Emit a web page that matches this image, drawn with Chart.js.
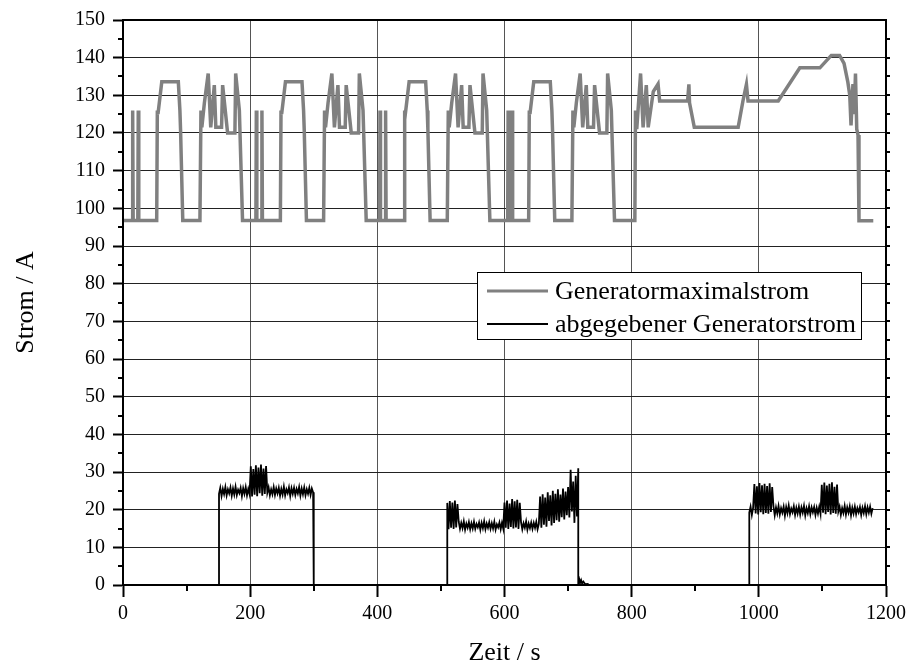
<!DOCTYPE html>
<html>
<head>
<meta charset="utf-8">
<script src="https://cdn.jsdelivr.net/npm/chart.js@4.4.0/dist/chart.umd.min.js"></script>
<style>
  html, body { margin: 0; padding: 0; background: #fff; }
  #wrap { width: 911px; height: 669px; }
</style>
</head>
<body>
<div id="wrap"><canvas id="chart" width="911" height="669"></canvas></div>
<script>
// Generatormaximalstrom, [Zeit s, Strom A] breakpoints
const maxCycle1 = [[0,96.8],[14.5,96.8],[15.2,126],[16,96.8],[23.3,96.8],[24,126],[24.8,96.8],[53,96.8],[54,126],[55,125],[61,133.6],[87,133.6],[89.5,126],[90.5,121],[94,96.8],
  [121,96.8],[122.6,126],[124,121.5],[128,128],[134,135.8],[138,121.5],[143.6,132.7],[146,121.5],[155,121.5],[156.7,132.7],[164.5,120],[176,120],[177.2,135.8],[183,126],[188,96.8]];
const maxCycle2 = [[209,96.8],[209.7,126],[210.5,96.8],[217.8,96.8],[218.5,126],[219.3,96.8],[247.5,96.8],[248.5,126],[249.5,125],[255.5,133.6],[281.5,133.6],[284,126],[285,121],[288.5,96.8],
  [315.5,96.8],[317,126],[318.5,121.5],[322.5,128],[328.5,135.8],[332.5,121.5],[338,132.7],[340.5,121.5],[349.5,121.5],[351,132.7],[359,120],[370.5,120],[371.7,135.8],[377.5,126],[382.5,96.8]];
const maxCycle3 = [[403.5,96.8],[404.2,126],[405,96.8],[412.3,96.8],[413,126],[413.8,96.8],[442,96.8],[443,126],[444,125],[450,133.6],[476,133.6],[478.5,126],[479.5,121],[483,96.8],
  [510,96.8],[511.6,126],[513,121.5],[517,128],[523,135.8],[527,121.5],[532.6,132.7],[535,121.5],[544,121.5],[545.7,132.7],[553.5,120],[565,120],[566.2,135.8],[572,126],[577,96.8]];
const maxCycle4 = [[605,96.8],[605.7,126],[606.5,96.8],[611.3,96.8],[612,126],[612.8,96.8],[638,96.8],[639,126],[640,125],[646,133.6],[672,133.6],[674.5,126],[675.5,121],[679,96.8],
  [706,96.8],[707.6,126],[709,121.5],[713,128],[719,135.8],[723,121.5],[728.6,132.7],[731,121.5],[740,121.5],[741.7,132.7],[749.5,120],[761,120],[762.2,135.8],[768,126],[773,96.8]];
const maxTail = [[805,96.8],[806,126],[808,121],[814,135.8],[818,121.5],[823,132.7],[826,121.5],[834,131],[841.5,133],[844,128.5],[888,128.5],[890,132.9],[891,128],[898.5,121.5],
  [967.5,121.5],[975,128.5],[980.5,132.9],[983,128.5],[1030.5,128.5],[1064.5,137.3],[1096,137.3],[1114,140.6],[1127,140.6],[1134,138.5],[1140,133.5],[1143,130],[1145,122],
  [1148,133],[1150,125],[1152,135.8],[1154,121],[1156,119.5],[1157.5,96.7],[1180,96.7]];

// abgegebener Generatorstrom, sampled every outStep seconds inside each load block
const outStep = 2;
const outSeg1Start = 151;
const outSeg1 = [24.2,25.8,23.6,25.5,24.1,26.0,23.8,25.4,24.3,25.9,23.7,25.6,24.0,26.1,23.9,25.3,24.4,25.8,23.6,25.7,24.2,26.0,23.8,25.5,24.1,
  31.5,23.5,30.8,24.0,31.8,23.6,31.2,24.4,32.0,23.7,30.9,24.2,31.6,24.5,25.9,23.8,25.4,24.1,26.0,23.9,25.6,24.3,25.8,23.7,25.5,
  24.0,26.1,23.8,25.4,24.4,25.9,23.6,25.7,24.2,25.8,23.9,25.5,24.3,26.0,23.7,25.6,24.1,25.9,23.8,25.4,24.2,25.8,23.9,25.6,24.6];
const outSeg2Start = 510;
const outSeg2 = [21.8,14.8,22.3,15.2,21.9,14.9,22.4,15.3,21.5,16.8,14.9,16.5,15.1,16.9,14.7,16.3,15.2,16.7,14.8,16.4,15.0,16.8,14.9,16.2,15.3,
  16.6,14.7,16.5,15.1,16.9,14.8,16.3,15.2,16.7,14.9,16.4,15.0,16.8,14.7,16.1,15.3,16.6,14.8,16.5,15.0,
  21.9,15.2,22.4,14.9,21.6,15.4,22.8,15.0,22.2,15.3,22.6,14.9,21.8,16.7,14.8,16.4,15.2,16.9,14.7,16.3,15.1,16.6,14.9,16.5,15.2,16.8,14.8,16.2,
  23.5,15.2,24.1,16.0,23.2,15.5,24.6,17.0,23.8,15.8,25.0,16.5,24.2,17.2,25.4,16.8,24.0,18.0,25.6,17.4,24.8,18.5,26.0,17.9,30.6,19.5,27.5,16.5,29.0,18.2,31.0];
const outSeg3Start = 985;
const outSeg3 = [19.2,20.8,18.6,20.5,26.8,19.0,26.2,18.7,27.1,19.3,26.5,18.8,26.9,19.1,26.3,18.9,27.0,19.4,26.0,20.9,18.5,20.6,19.0,21.0,18.7,
  20.4,19.2,20.8,18.4,20.7,19.1,21.1,18.8,20.3,19.3,20.9,18.6,20.5,19.0,20.8,18.7,20.6,19.2,21.0,18.5,20.4,19.1,20.9,18.8,20.6,
  19.3,20.7,18.6,20.5,19.0,20.8,18.9,26.6,19.2,27.2,18.8,26.4,19.4,26.9,18.7,27.3,19.1,26.1,18.9,26.7,19.5,20.8,18.6,20.4,19.1,
  21.0,18.7,20.6,19.2,20.9,18.5,20.5,19.0,20.8,18.8,20.4,19.3,20.7,18.6,20.5,19.1,20.9,18.8,20.6,19.2,20.8,18.9,20.4];
const outOffTimes = [300, 716];
// small residual current right after the second block
const outResidual = [[717.5,1.6],[719,0.6],[720.5,1.3],[722,0.4],[724,0.9],[727,0.2],[731,0.3],[732,0]];

const xMinorTicks = [100,300,500,700,900,1100];
const yMinorTicks = [5,15,25,35,45,55,65,75,85,95,105,115,125,135,145];

const serif = "'Liberation Serif', 'Times New Roman', serif";

const toPts = arr => arr.map(([x, y]) => ({ x, y }));
const sampled = (start, vals) => vals.map((v, i) => ({ x: start + i * outStep, y: v }));

const maxPoints = toPts([...maxCycle1, ...maxCycle2, ...maxCycle3, ...maxCycle4, ...maxTail]);
const outPoints = [
    { x: 0, y: 0 }, { x: outSeg1Start, y: 0 },
    ...sampled(outSeg1Start, outSeg1),
    { x: outOffTimes[0], y: 0 }, { x: outSeg2Start, y: 0 },
    ...sampled(outSeg2Start, outSeg2),
    { x: outOffTimes[1], y: 0 },
    ...toPts(outResidual),
    { x: outSeg3Start, y: 0 },
    ...sampled(outSeg3Start, outSeg3)
];

// minor ticks, frame and the boxed legend inside the plot
const decor = {
    id: 'decor',
    afterDraw(chart) {
        const { ctx, chartArea: a, scales: { x, y } } = chart;
        ctx.save();
        ctx.strokeStyle = '#000';
        ctx.lineWidth = 2;
        ctx.beginPath();
        yMinorTicks.forEach(v => {
            const py = Math.round(y.getPixelForValue(v));
            ctx.moveTo(a.left - 5, py); ctx.lineTo(a.left, py);
        });
        for (let v = 5; v < 150; v += 5) {
            const py = Math.round(y.getPixelForValue(v));
            ctx.moveTo(a.right, py); ctx.lineTo(a.right + 4, py);
        }
        xMinorTicks.forEach(v => {
            const px = Math.round(x.getPixelForValue(v));
            ctx.moveTo(px, a.bottom); ctx.lineTo(px, a.bottom + 6);
        });
        ctx.stroke();
        ctx.strokeRect(a.left, a.top, a.right - a.left, a.bottom - a.top);

        // legend
        const lx = a.left + 354, ly = a.top + 252, lw = 384, lh = 67;
        ctx.fillStyle = '#fff';
        ctx.fillRect(lx, ly, lw, lh);
        ctx.lineWidth = 1;
        ctx.strokeRect(lx + 0.5, ly + 0.5, lw, lh);
        ctx.font = '26px ' + serif;
        ctx.textBaseline = 'alphabetic';
        ctx.textAlign = 'left';
        chart.data.datasets.forEach((ds, i) => {
            const yy = ly + 19 + i * 33;
            ctx.strokeStyle = ds.borderColor;
            ctx.lineWidth = i === 0 ? 3 : 2;
            ctx.beginPath();
            ctx.moveTo(lx + 10, yy); ctx.lineTo(lx + 71, yy);
            ctx.stroke();
            ctx.fillStyle = '#000';
            ctx.fillText(ds.label, lx + 78, yy + 8);
        });
        ctx.restore();
    }
};

new Chart(document.getElementById('chart'), {
    type: 'line',
    data: {
        datasets: [
            { label: 'Generatormaximalstrom', data: maxPoints, borderColor: '#808080', borderWidth: 3.5, pointRadius: 0, tension: 0 },
            { label: 'abgegebener Generatorstrom', data: outPoints, borderColor: '#000', borderWidth: 1.8, pointRadius: 0, tension: 0 }
        ]
    },
    options: {
        responsive: false,
        animation: false,
        parsing: false,
        layout: { padding: { top: 18, right: 25, left: 0, bottom: 0 } },
        plugins: { legend: { display: false }, tooltip: { enabled: false } },
        scales: {
            x: {
                type: 'linear', min: 0, max: 1200,
                ticks: { stepSize: 200, color: '#000', font: { family: serif, size: 20 }, padding: 5, maxRotation: 0, autoSkip: false, callback: v => String(v) },
                grid: { color: '#555', lineWidth: 1, tickLength: 12, tickColor: '#000', tickWidth: 2 },
                border: { color: '#000', width: 2 },
                title: { display: true, text: 'Zeit / s', color: '#000', font: { family: serif, size: 26 }, padding: 0 },
                afterFit: s => { s.height = 84; }
            },
            y: {
                min: 0, max: 150,
                ticks: { stepSize: 10, color: '#000', font: { family: serif, size: 20 }, padding: 8, autoSkip: false, callback: v => String(v) },
                grid: { color: '#222', lineWidth: 1, tickLength: 10, tickColor: '#000', tickWidth: 2 },
                border: { color: '#000', width: 2 },
                title: { display: true, text: 'Strom / A', color: '#000', font: { family: serif, size: 26 }, padding: { top: 11, bottom: 0 } },
                afterFit: s => { s.width = 123; }
            }
        }
    },
    plugins: [decor]
});
</script>
</body>
</html>
